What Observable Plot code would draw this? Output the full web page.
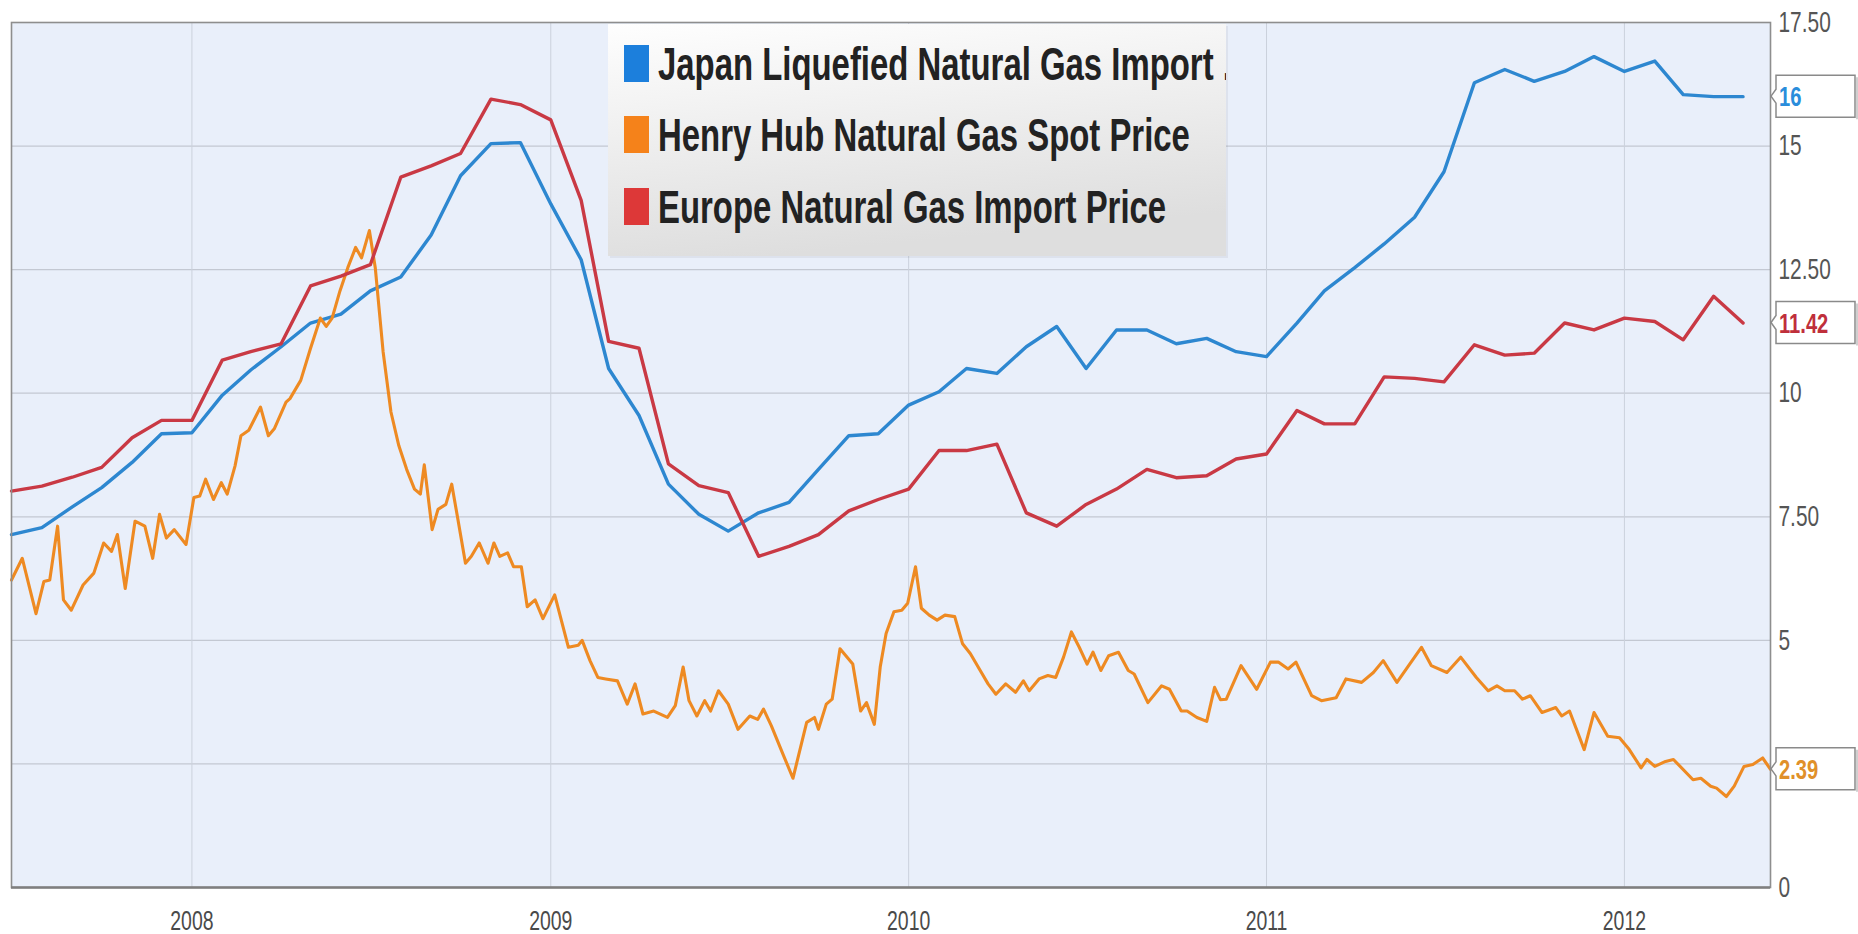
<!DOCTYPE html>
<html>
<head>
<meta charset="utf-8">
<script src="https://cdn.jsdelivr.net/npm/d3@7"></script>
<script src="https://cdn.jsdelivr.net/npm/@observablehq/plot@0.6"></script>
<style>
  html, body { margin: 0; padding: 0; background: #ffffff; overflow: hidden; }
  #chart svg { display: block; }
</style>
</head>
<body>
<div id="chart"></div>
<script>
// ---------------- DATA ----------------
const seriesNames = [
  "Japan Liquefied Natural Gas Import .",
  "Henry Hub Natural Gas Spot Price",
  "Europe Natural Gas Import Price"
];

const months = [
  "2007-07","2007-08","2007-09","2007-10","2007-11","2007-12",
  "2008-01","2008-02","2008-03","2008-04","2008-05","2008-06","2008-07","2008-08","2008-09","2008-10","2008-11","2008-12",
  "2009-01","2009-02","2009-03","2009-04","2009-05","2009-06","2009-07","2009-08","2009-09","2009-10","2009-11","2009-12",
  "2010-01","2010-02","2010-03","2010-04","2010-05","2010-06","2010-07","2010-08","2010-09","2010-10","2010-11","2010-12",
  "2011-01","2011-02","2011-03","2011-04","2011-05","2011-06","2011-07","2011-08","2011-09","2011-10","2011-11","2011-12",
  "2012-01","2012-02","2012-03","2012-04","2012-05"
];

const japanValues = [
  7.14, 7.28, 7.7, 8.09, 8.6, 9.18,
  9.2, 9.96, 10.47, 10.94, 11.42, 11.6, 12.07, 12.35, 13.2, 14.4, 15.05, 15.07,
  13.83, 12.7, 10.5, 9.55, 8.16, 7.55, 7.21, 7.58, 7.79, 8.46, 9.14, 9.18,
  9.76, 10.03, 10.5, 10.4, 10.94, 11.35, 10.5, 11.28, 11.28, 11.0, 11.11, 10.84,
  10.74, 11.42, 12.07, 12.54, 13.02, 13.56, 14.48, 16.28, 16.55, 16.31, 16.51, 16.81,
  16.51, 16.72, 16.04, 16.0, 16.0
];

const europeValues = [
  8.02, 8.12, 8.3, 8.5, 9.1, 9.45,
  9.45, 10.67, 10.84, 11.0, 12.17, 12.37, 12.6, 14.37, 14.6, 14.85, 15.95, 15.84,
  15.53, 13.9, 11.05, 10.91, 8.57, 8.13, 7.99, 6.7, 6.9, 7.14, 7.62, 7.85,
  8.06, 8.84, 8.84, 8.97, 7.58, 7.31, 7.75, 8.06, 8.46, 8.29, 8.33, 8.67,
  8.77, 9.65, 9.38, 9.38, 10.33, 10.3, 10.23, 10.98, 10.77, 10.81, 11.42, 11.28,
  11.52, 11.45, 11.08, 11.96, 11.42
];

const henryDates = [
  "2007-07-01","2007-07-12","2007-07-26","2007-08-03","2007-08-09","2007-08-17","2007-08-23","2007-08-31",
  "2007-09-12","2007-09-23","2007-10-03","2007-10-11","2007-10-17","2007-10-25","2007-11-04","2007-11-14",
  "2007-11-22","2007-11-29","2007-12-06","2007-12-14","2007-12-26","2008-01-03","2008-01-09","2008-01-15",
  "2008-01-23","2008-01-31","2008-02-06","2008-02-14","2008-02-20","2008-02-28","2008-03-11","2008-03-19",
  "2008-03-25","2008-04-06","2008-04-10","2008-04-21","2008-05-01","2008-05-11","2008-05-17","2008-05-23",
  "2008-05-31","2008-06-08","2008-06-16","2008-06-22","2008-06-30","2008-07-06","2008-07-14","2008-07-22",
  "2008-07-30","2008-08-07","2008-08-15","2008-08-21","2008-08-25","2008-09-02","2008-09-08","2008-09-16",
  "2008-09-22","2008-09-28","2008-10-06","2008-10-12","2008-10-20","2008-10-29","2008-11-04","2008-11-10",
  "2008-11-18","2008-11-24","2008-12-02","2008-12-08","2008-12-16","2008-12-24","2009-01-05","2009-01-19",
  "2009-01-29","2009-02-02","2009-02-10","2009-02-18","2009-02-26","2009-03-10","2009-03-20","2009-03-28",
  "2009-04-05","2009-04-16","2009-04-30","2009-05-08","2009-05-16","2009-05-22","2009-05-30","2009-06-07",
  "2009-06-13","2009-06-21","2009-07-01","2009-07-11","2009-07-23","2009-07-31","2009-08-06","2009-08-14",
  "2009-08-26","2009-09-05","2009-09-19","2009-09-27","2009-10-01","2009-10-09","2009-10-15","2009-10-23",
  "2009-11-05","2009-11-13","2009-11-19","2009-11-27","2009-12-03","2009-12-09","2009-12-17","2009-12-25",
  "2009-12-31","2010-01-08","2010-01-14","2010-01-22","2010-01-30","2010-02-07","2010-02-17","2010-02-25",
  "2010-03-05","2010-03-15","2010-03-23","2010-03-31","2010-04-10","2010-04-20","2010-04-28","2010-05-04",
  "2010-05-14","2010-05-23","2010-05-31","2010-06-08","2010-06-16","2010-06-24","2010-07-02","2010-07-08",
  "2010-07-16","2010-07-24","2010-08-03","2010-08-13","2010-08-19","2010-09-02","2010-09-16","2010-09-24",
  "2010-10-06","2010-10-12","2010-10-22","2010-11-01","2010-11-09","2010-11-15","2010-11-21","2010-12-06",
  "2010-12-22","2011-01-05","2011-01-13","2011-01-23","2011-01-31","2011-02-16","2011-02-26","2011-03-13",
  "2011-03-23","2011-04-08","2011-04-20","2011-04-30","2011-05-14","2011-05-27","2011-06-08","2011-06-18",
  "2011-07-04","2011-07-18","2011-08-03","2011-08-15","2011-08-24","2011-09-01","2011-09-11","2011-09-19",
  "2011-09-27","2011-10-09","2011-10-23","2011-10-29","2011-11-06","2011-11-21","2011-12-01","2011-12-15",
  "2011-12-27","2012-01-06","2012-01-18","2012-01-24","2012-02-01","2012-02-12","2012-02-20","2012-03-11",
  "2012-03-19","2012-03-29","2012-04-04","2012-04-14","2012-04-22","2012-05-02","2012-05-11","2012-05-21",
  "2012-05-29"
];

const henryValues = [
  6.22, 6.66, 5.54, 6.19, 6.22, 7.31, 5.82, 5.61,
  6.12, 6.36, 6.97, 6.8, 7.14, 6.05, 7.41, 7.31,
  6.66, 7.55, 7.07, 7.24, 6.94, 7.89, 7.92, 8.26,
  7.85, 8.19, 7.96, 8.53, 9.14, 9.25, 9.72, 9.14,
  9.28, 9.82, 9.89, 10.26, 10.91, 11.52, 11.35, 11.52,
  12.07, 12.54, 12.95, 12.74, 13.29, 12.54, 10.84, 9.62,
  8.94, 8.46, 8.06, 7.96, 8.55, 7.24, 7.65, 7.75,
  8.16, 7.48, 6.56, 6.7, 6.97, 6.56, 6.97, 6.7,
  6.77, 6.49, 6.49, 5.68, 5.82, 5.44, 5.92, 4.86,
  4.9, 5.0, 4.59, 4.25, 4.22, 4.18, 3.71, 4.12,
  3.51, 3.57, 3.44, 3.68, 4.46, 3.78, 3.47, 3.78,
  3.57, 3.98, 3.71, 3.2, 3.47, 3.4, 3.61, 3.27,
  2.69, 2.21, 3.34, 3.44, 3.2, 3.71, 3.81, 4.83,
  4.52, 3.57, 3.74, 3.3, 4.46, 5.14, 5.58, 5.61,
  5.75, 6.49, 5.65, 5.51, 5.41, 5.51, 5.48, 4.93,
  4.73, 4.39, 4.12, 3.91, 4.12, 3.95, 4.18, 3.98,
  4.22, 4.29, 4.25, 4.66, 5.17, 4.86, 4.52, 4.76,
  4.39, 4.69, 4.76, 4.39, 4.32, 3.74, 4.08, 4.01,
  3.57, 3.57, 3.44, 3.36, 4.05, 3.8, 3.81, 4.49,
  4.01, 4.56, 4.56, 4.42, 4.56, 3.88, 3.78, 3.84,
  4.22, 4.15, 4.35, 4.59, 4.15, 4.52, 4.86, 4.49,
  4.35, 4.66, 4.25, 3.98, 4.08, 3.98, 3.98, 3.81,
  3.88, 3.54, 3.64, 3.47, 3.57, 2.79, 3.54, 3.06,
  3.03, 2.79, 2.42, 2.59, 2.45, 2.55, 2.59, 2.18,
  2.21, 2.05, 2.01, 1.84, 2.05, 2.45, 2.49, 2.62,
  2.39
];

const yearTicks = ["2008-01-01","2009-01-01","2010-01-01","2011-01-01","2012-01-01"];
const yearLabels = ["2008","2009","2010","2011","2012"];
const yGridTicks = [0, 2.5, 5, 7.5, 10, 12.5, 15, 17.5];
// the 2.50 label is hidden behind the 2.39 callout in the reference
const yLabelTicks = [0, 5, 7.5, 10, 12.5, 15, 17.5];
const yTickLabels = ["0", "5", "7.50", "10", "12.50", "15", "17.50"];
const xDomain = ["2007-07-01", "2012-05-29"];

// ---------------- BUILD ----------------
const japan = months.map((m, i) => ({date: new Date(m + "-01"), value: japanValues[i]}));
const europe = months.map((m, i) => ({date: new Date(m + "-01"), value: europeValues[i]}));
const henry = henryDates.map((d, i) => ({date: new Date(d), value: henryValues[i]}));
const yearDates = yearTicks.map(d => new Date(d));

const C = {japan: "#2d87d0", henry: "#ee8a22", europe: "#c93944"};
const FONT = "'Liberation Sans', Arial, Helvetica, sans-serif";
const SQUEEZE = 0.72;

const plot = Plot.plot({
  width: 1858,
  height: 934,
  marginLeft: 11,
  marginRight: 88,
  marginTop: 22,
  marginBottom: 47,
  style: {background: "#ffffff", fontFamily: FONT, overflow: "visible"},
  x: {type: "utc", domain: xDomain.map(d => new Date(d))},
  y: {domain: [0, 17.5]},
  marks: [
    Plot.frame({fill: "#e9effa", stroke: "none"}),
    Plot.gridY(yGridTicks, {stroke: "#c3c8d2", strokeOpacity: 1, strokeWidth: 1.2}),
    Plot.gridX(yearDates, {stroke: "#cbd1dc", strokeOpacity: 1, strokeWidth: 1}),
    Plot.line(japan, {x: "date", y: "value", stroke: C.japan, strokeWidth: 3.4, strokeLinejoin: "round"}),
    Plot.line(henry, {x: "date", y: "value", stroke: C.henry, strokeWidth: 3.1, strokeLinejoin: "round"}),
    Plot.line(europe, {x: "date", y: "value", stroke: C.europe, strokeWidth: 3.4, strokeLinejoin: "round"}),
    Plot.frame({stroke: "#8e8e8e", strokeWidth: 1.6}),
    Plot.ruleY([0], {stroke: "#7f7f7f", strokeWidth: 2.4}),
    Plot.axisX(yearDates, {
      label: null, tickSize: 0, tickPadding: 23, fontSize: 27, color: "#4a4a4a",
      tickFormat: d => yearLabels[yearDates.findIndex(t => +t === +d)]
    }),
    Plot.axisY(yLabelTicks, {
      anchor: "right", label: null, tickSize: 0, tickPadding: 8, fontSize: 29, color: "#555555",
      tickFormat: d => yTickLabels[yLabelTicks.indexOf(d)]
    })
  ]
});

document.getElementById("chart").appendChild(plot);
const svg = d3.select(plot);

// squeeze text horizontally (the reference image is horizontally compressed)
function squeeze(el, s) {
  const w = el.getComputedTextLength();
  if (w > 0) {
    el.setAttribute("textLength", (w * s).toFixed(2));
    el.setAttribute("lengthAdjust", "spacingAndGlyphs");
  }
}
plot.querySelectorAll('g[aria-label="x-axis tick label"] text, g[aria-label="y-axis tick label"] text')
  .forEach(el => squeeze(el, SQUEEZE));

const xs = plot.scale("x"), ys = plot.scale("y");
const xRight = xs.range[1];

// ---------------- CALLOUTS (last values) ----------------
function fmt(v) { return v % 1 === 0 ? String(v) : v.toFixed(2); }
const callouts = [
  {value: japan[japan.length - 1].value, color: "#2a8ddb"},
  {value: europe[europe.length - 1].value, color: "#bf2f3b"},
  {value: henry[henry.length - 1].value, color: "#e0902a"}
];
const cg = svg.append("g").attr("class", "callouts");
callouts.forEach(c => {
  const yc = ys.apply(c.value);
  const bx = xRight + 6, right = 1855, top = yc - 21, bottom = yc + 21;
  cg.append("path")
    .attr("d", `M${bx},${top} H${right} V${bottom} H${bx} V${yc + 7} L${xRight + 1},${yc} L${bx},${yc - 7} Z`)
    .attr("fill", "#ffffff").attr("stroke", "#8a8a8a").attr("stroke-width", 1.5);
  cg.append("line").attr("x1", right + 2).attr("x2", right + 2).attr("y1", top + 2).attr("y2", bottom + 2)
    .attr("stroke", "#cfcfcf").attr("stroke-width", 2);
  const t = cg.append("text")
    .attr("x", bx + 3).attr("y", yc + 10)
    .attr("text-anchor", "start")
    .attr("font-family", FONT).attr("font-size", 28).attr("font-weight", "bold")
    .attr("fill", c.color).text(fmt(c.value));
  squeeze(t.node(), SQUEEZE);
});

// ---------------- LEGEND ----------------
const defs = svg.append("defs");
const grad = defs.append("linearGradient").attr("id", "lgGrad")
  .attr("x1", "0").attr("y1", "0").attr("x2", "0.25").attr("y2", "1");
grad.append("stop").attr("offset", "0%").attr("stop-color", "#fefefe");
grad.append("stop").attr("offset", "100%").attr("stop-color", "#dedede");
defs.append("clipPath").attr("id", "lgClip").append("rect")
  .attr("x", 608).attr("y", 24).attr("width", 618).attr("height", 232);

const lg = svg.append("g").attr("class", "legend");
lg.append("rect").attr("x", 610).attr("y", 26).attr("width", 618).attr("height", 232)
  .attr("fill", "#000").attr("opacity", 0.05);
lg.append("rect").attr("x", 608).attr("y", 24).attr("width", 618).attr("height", 232)
  .attr("fill", "url(#lgGrad)");
const legendColors = ["#1c7fdc", "#f5821a", "#dd3838"];
const rowTops = [45, 116, 188];
const lgt = lg.append("g").attr("clip-path", "url(#lgClip)");
seriesNames.forEach((name, i) => {
  lgt.append("rect").attr("x", 624).attr("y", rowTops[i]).attr("width", 25).attr("height", 37)
    .attr("fill", legendColors[i]);
  const t = lgt.append("text")
    .attr("x", 658).attr("y", rowTops[i] + 35)
    .attr("text-anchor", "start")
    .attr("font-family", FONT).attr("font-size", 46).attr("font-weight", "bold")
    .attr("fill", "#222222").text(name);
  squeeze(t.node(), 0.715);
});
</script>
</body>
</html>
